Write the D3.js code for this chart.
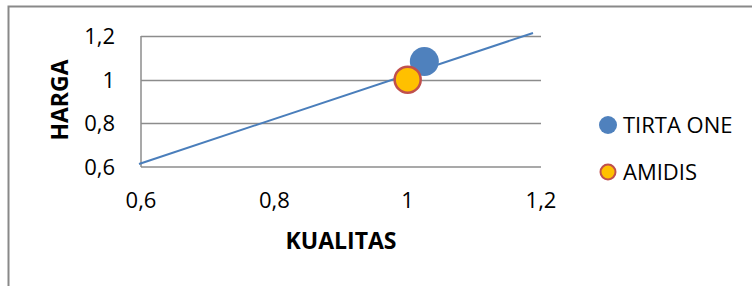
<!DOCTYPE html>
<html>
<head>
<meta charset="utf-8">
<script src="https://cdn.jsdelivr.net/npm/d3@7"></script>
<style>
  html, body { margin: 0; padding: 0; background: #fff; }
  svg { display: block; font-family: "Open Sans", sans-serif; }
</style>
</head>
<body>
<div id="chart"></div>
<script>
// --- Data ---
const seriesNames = ['TIRTA ONE', 'AMIDIS'];
const kualitas = [1.025, 1.0];   // x values
const harga = [1.083, 1.0];      // y values
const lineX = [0.597, 1.188];    // trend line ends
const lineY = [0.614, 1.214];
const xTicks = [0.6, 0.8, 1, 1.2];
const yTicks = [0.6, 0.8, 1, 1.2];
const xTitle = 'KUALITAS';
const yTitle = 'HARGA';

const W = 752, H = 286;
const PLOT = { left: 141, right: 541, top: 36, bottom: 167 };
const COLORS = { fill: ['#4F81BD', '#FFC000'], stroke: ['none', '#C0504D'] };
const fmt = d => String(d).replace('.', ',');

const svg = d3.select('#chart').append('svg')
    .attr('width', W)
    .attr('height', H);

// Chart frame (right and bottom edges fall outside the picture)
svg.append('rect')
    .attr('x', 8.5).attr('y', 6.5)
    .attr('width', 800).attr('height', 400)
    .attr('fill', 'none')
    .attr('stroke', '#898989')
    .attr('stroke-width', 2);

const x = d3.scaleLinear().domain([0.6, 1.2]).range([PLOT.left, PLOT.right]);
const y = d3.scaleLinear().domain([0.6, 1.2]).range([PLOT.bottom, PLOT.top]);

// Gridlines
svg.append('g')
    .selectAll('line')
    .data(yTicks.filter(d => d > 0.6))
    .join('line')
    .attr('x1', PLOT.left).attr('x2', PLOT.right)
    .attr('y1', d => Math.round(y(d)) + 0.5)
    .attr('y2', d => Math.round(y(d)) + 0.5)
    .attr('stroke', '#8c8c8c')
    .attr('stroke-width', 1.5);

// Axes lines
svg.append('line')
    .attr('x1', PLOT.left).attr('x2', PLOT.right)
    .attr('y1', y(0.6)).attr('y2', y(0.6))
    .attr('stroke', '#8c8c8c').attr('stroke-width', 1.5);
svg.append('line')
    .attr('x1', x(0.6)).attr('x2', x(0.6))
    .attr('y1', PLOT.top).attr('y2', PLOT.bottom)
    .attr('stroke', '#8c8c8c').attr('stroke-width', 1.5);

// Tick labels
svg.append('g')
    .selectAll('text')
    .data(xTicks)
    .join('text')
    .attr('x', d => x(d))
    .attr('y', 208)
    .attr('text-anchor', 'middle')
    .attr('font-size', 22)
    .attr('fill', '#000')
    .text(fmt);

svg.append('g')
    .selectAll('text')
    .data(yTicks)
    .join('text')
    .attr('x', 115)
    .attr('y', d => y(d) + 8)
    .attr('text-anchor', 'end')
    .attr('font-size', 22)
    .attr('fill', '#000')
    .text(fmt);

// Axis titles
svg.append('text')
    .attr('x', 341).attr('y', 249)
    .attr('text-anchor', 'middle')
    .attr('font-size', 23)
    .attr('font-weight', 'bold')
    .text(xTitle);

svg.append('text')
    .attr('transform', 'translate(68,100) rotate(-90)')
    .attr('text-anchor', 'middle')
    .attr('font-size', 23)
    .attr('font-weight', 'bold')
    .text(yTitle);

// Trend line
svg.append('path')
    .datum(d3.zip(lineX, lineY))
    .attr('d', d3.line().x(d => x(d[0])).y(d => y(d[1])))
    .attr('fill', 'none')
    .attr('stroke', '#4A7EBB')
    .attr('stroke-width', 2);

// Bubbles
svg.append('g')
    .selectAll('circle')
    .data(seriesNames.map((n, i) => ({ n, i, kx: kualitas[i], hy: harga[i] })))
    .join('circle')
    .attr('cx', d => x(d.kx))
    .attr('cy', d => y(d.hy))
    .attr('r', d => d.i === 0 ? 14.5 : 13)
    .attr('fill', d => COLORS.fill[d.i])
    .attr('stroke', d => COLORS.stroke[d.i])
    .attr('stroke-width', 2.5);

// Legend
const leg = svg.append('g')
    .selectAll('g')
    .data(seriesNames)
    .join('g')
    .attr('transform', (d, i) => `translate(608,${125 + i * 47})`);

leg.append('circle')
    .attr('r', (d, i) => i === 0 ? 9 : 7.5)
    .attr('fill', (d, i) => COLORS.fill[i])
    .attr('stroke', (d, i) => COLORS.stroke[i])
    .attr('stroke-width', 2);

leg.append('text')
    .attr('x', 15)
    .attr('y', 8)
    .attr('font-size', 22)
    .attr('fill', '#000')
    .text(d => d);
</script>
</body>
</html>
